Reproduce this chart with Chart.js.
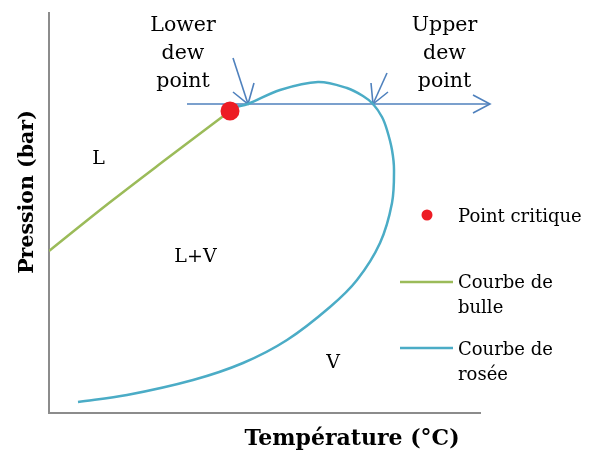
<!DOCTYPE html>
<html>
<head>
<meta charset="utf-8">
<script src="https://cdn.jsdelivr.net/npm/chart.js@4.4.1/dist/chart.umd.min.js"></script>
<style>
  html, body { margin: 0; padding: 0; background: #ffffff; }
  canvas { display: block; }
</style>
</head>
<body>
<canvas id="phase" width="594" height="450"></canvas>
<script>
// Diagramme de phase P-T d'un mélange (unités arbitraires)
const bubbleT = [0, 6.0, 12.0, 18.1];
const bubbleP = [16.2, 21.0, 25.6, 30.2];

const dewT = [18.7, 19.9, 23.1, 26.9, 29.8, 31.4, 32.4, 33.3, 33.8, 34.3, 34.5, 34.3, 33.1, 30.8, 28.1, 23.8, 19.4, 14.4, 7.8, 2.9];
const dewP = [30.6, 30.9, 32.3, 33.1, 32.5, 31.7, 30.9, 29.6, 28.3, 26.3, 24.3, 21.0, 17.0, 13.3, 10.6, 7.3, 5.0, 3.3, 1.8, 1.1];

const criticalT = [18.1];
const criticalP = [30.2];

// isobare avec sa flèche
const isobarT = [13.8, 44.1];
const isobarP = [30.9, 30.9];
const isobarHeadT = [42.4, 44.1, 42.4];
const isobarHeadP = [31.8, 30.9, 30.0];

// flèches des points de rosée
const lowerShaftT = [18.4, 19.9];
const lowerShaftP = [35.5, 30.9];
const lowerHeadT = [18.4, 19.9, 20.5];
const lowerHeadP = [32.1, 30.9, 33.0];
const upperShaftT = [33.8, 32.4];
const upperShaftP = [34.0, 30.9];
const upperHeadT = [32.2, 32.4, 33.9];
const upperHeadP = [33.0, 30.9, 32.1];

// textes placés dans le repère (T, P de la ligne de base)
const regionLabels = [
  { text: 'L', t: 4.95, p: 24.9 },
  { text: 'L+V', t: 14.65, p: 15.1 },
  { text: 'V', t: 28.4, p: 4.5 }
];
const dewLabels = [
  { lines: ['Lower', 'dew', 'point'], t: 13.4, p: 38.2 },
  { lines: ['Upper', 'dew', 'point'], t: 39.55, p: 38.2 }
];

const RED = '#ED1C24';
const GREEN = '#9BBB59';
const TEAL = '#4BACC6';
const BLUE = '#4F81BD';
const SERIF = '"DejaVu Serif", "Liberation Serif", serif';

const zip = (xs, ys) => xs.map((x, i) => ({ x: x, y: ys[i] }));

function arrowSet(ts, ps) {
  return {
    data: zip(ts, ps),
    showLine: true,
    borderColor: BLUE,
    borderWidth: 1.6,
    pointRadius: 0,
    tension: 0,
    clip: false
  };
}

const annotate = {
  id: 'annotate',
  afterDatasetsDraw(chart) {
    const ctx = chart.ctx;
    const xs = chart.scales.x, ys = chart.scales.y;
    ctx.save();
    ctx.fillStyle = '#000';
    ctx.textBaseline = 'alphabetic';
    ctx.textAlign = 'center';
    ctx.font = '19px ' + SERIF;
    regionLabels.forEach(l => {
      ctx.fillText(l.text, xs.getPixelForValue(l.t), ys.getPixelForValue(l.p));
    });
    ctx.font = '20.5px ' + SERIF;
    dewLabels.forEach(l => {
      const x = xs.getPixelForValue(l.t);
      const y0 = ys.getPixelForValue(l.p);
      l.lines.forEach((s, i) => ctx.fillText(s, x, y0 + i * 28));
    });

    // légende
    ctx.textAlign = 'left';
    ctx.fillStyle = RED;
    ctx.beginPath();
    ctx.arc(427, 215, 5.5, 0, Math.PI * 2);
    ctx.fill();
    ctx.lineWidth = 2.5;
    ctx.strokeStyle = GREEN;
    ctx.beginPath(); ctx.moveTo(400, 282); ctx.lineTo(453, 282); ctx.stroke();
    ctx.strokeStyle = TEAL;
    ctx.beginPath(); ctx.moveTo(400, 348); ctx.lineTo(453, 348); ctx.stroke();
    ctx.fillStyle = '#000';
    ctx.font = '18px ' + SERIF;
    ctx.fillText('Point critique', 458, 222);
    ctx.fillText('Courbe de', 458, 288);
    ctx.fillText('bulle', 458, 313);
    ctx.fillText('Courbe de', 458, 355);
    ctx.fillText('rosée', 458, 380);

    // titres des axes
    ctx.textAlign = 'center';
    ctx.font = 'bold 22px ' + SERIF;
    ctx.fillText('Température (°C)', 352, 445);
    ctx.save();
    ctx.font = 'bold 20.5px ' + SERIF;
    ctx.translate(33, 192);
    ctx.rotate(-Math.PI / 2);
    ctx.fillText('Pression (bar)', 0, 0);
    ctx.restore();
    ctx.restore();
  }
};

new Chart(document.getElementById('phase'), {
  type: 'scatter',
  data: {
    datasets: [
      {
        label: 'Point critique',
        data: zip(criticalT, criticalP),
        pointRadius: 9.5,
        pointBackgroundColor: RED,
        pointBorderWidth: 0,
        showLine: false
      },
      {
        label: 'Courbe de bulle',
        data: zip(bubbleT, bubbleP),
        showLine: true,
        borderColor: GREEN,
        borderWidth: 2.5,
        pointRadius: 0,
        tension: 0.4
      },
      {
        label: 'Courbe de rosée',
        data: zip(dewT, dewP),
        showLine: true,
        borderColor: TEAL,
        borderWidth: 2.5,
        pointRadius: 0,
        tension: 0.35
      },
      arrowSet(isobarT, isobarP),
      arrowSet(isobarHeadT, isobarHeadP),
      arrowSet(lowerShaftT, lowerShaftP),
      arrowSet(lowerHeadT, lowerHeadP),
      arrowSet(upperShaftT, upperShaftP),
      arrowSet(upperHeadT, upperHeadP)
    ]
  },
  options: {
    responsive: false,
    animation: false,
    devicePixelRatio: 1,
    layout: { autoPadding: false, padding: { left: 49, top: 13, right: 114, bottom: 37 } },
    plugins: { legend: { display: false }, tooltip: { enabled: false } },
    scales: {
      x: {
        type: 'linear', min: 0, max: 43.1,
        ticks: { display: false },
        grid: { display: false, drawTicks: false },
        border: { display: true, color: '#8C8C8C', width: 2 }
      },
      y: {
        type: 'linear', min: 0, max: 40,
        ticks: { display: false },
        grid: { display: false, drawTicks: false },
        border: { display: true, color: '#8C8C8C', width: 2 }
      }
    }
  },
  plugins: [annotate]
});
</script>
</body>
</html>
